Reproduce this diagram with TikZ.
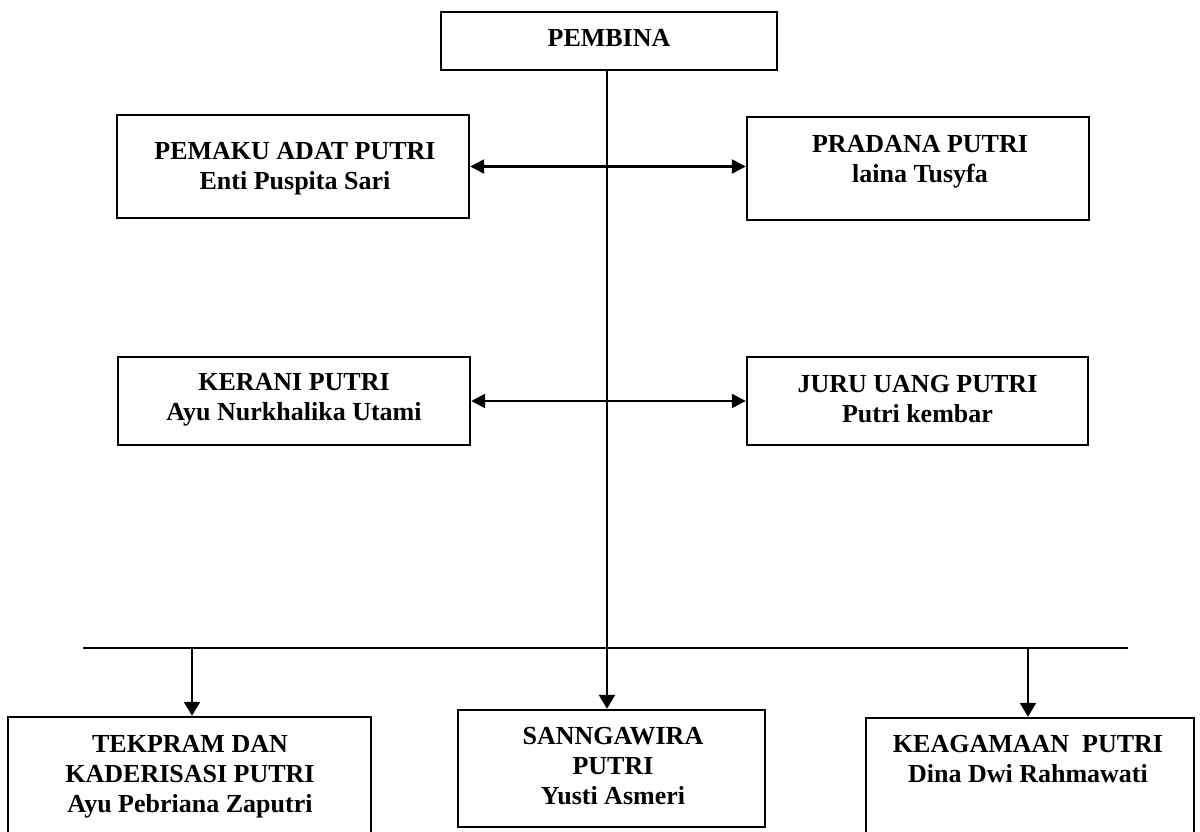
\documentclass[tikz,border=0pt]{standalone}
\usepackage{fontspec}
\setmainfont{Liberation Serif}
\usetikzlibrary{arrows.meta}
\begin{document}
\begin{tikzpicture}[x=0.5pt,y=-0.5pt,
  box/.style={draw=black,line width=1.2pt,rectangle,inner sep=0pt,fill=none},
  lbl/.style={anchor=north,inner sep=0pt,align=center,font=\bfseries\fontsize{13}{15}\selectfont},
  conn/.style={line width=1.2pt},
  arr/.style={line width=1.2pt,-{Triangle[length=7pt,width=8pt]}},
  darr/.style={line width=1.2pt,{Triangle[length=7pt,width=7pt]}-{Triangle[length=7pt,width=7pt]}},
  bar/.style={line width=0.9pt}]
\useasboundingbox (0,0) rectangle (1200,831);
\clip (0,0) rectangle (1200,831);
\fill[white] (0,0) rectangle (1200,831);

% boxes
\node[box,minimum width=168pt,minimum height=29pt] (pembina) at (609,41) {};
\node[box,minimum width=176pt,minimum height=51.5pt] (pemaku) at (293,166.5) {};
\node[box,minimum width=171pt,minimum height=51.5pt] (pradana) at (918,168.5) {};
\node[box,minimum width=176pt,minimum height=44pt] (kerani) at (294,401) {};
\node[box,minimum width=170.5pt,minimum height=44pt] (juru) at (917.5,401) {};
\node[box,minimum width=181.5pt,minimum height=71.5pt] (tek) at (189.5,788.5) {};
\node[box,minimum width=153.5pt,minimum height=58.5pt] (sang) at (611.5,768.5) {};
\node[box,minimum width=164pt,minimum height=71pt] (keag) at (1030,789) {};

% texts
\node[lbl] (tpembina) at (609,29) {PEMBINA};
\node[lbl] (tpemaku) at (295,142) {PEMAKU ADAT PUTRI\\Enti Puspita Sari};
\node[lbl] (tpradana) at (920,135) {PRADANA PUTRI\\laina Tusyfa};
\node[lbl] (tkerani) at (294,373) {KERANI PUTRI\\Ayu Nurkhalika Utami};
\node[lbl] (tjuru) at (917.5,375) {JURU UANG PUTRI\\Putri kembar};
\node[lbl] (ttek) at (190,735) {TEKPRAM DAN\\KADERISASI PUTRI\\Ayu Pebriana Zaputri};
\node[lbl] (tsang) at (613,727) {SANNGAWIRA\\PUTRI\\Yusti Asmeri};
\node[lbl] (tkeag) at (1028,735) {KEAGAMAAN~~PUTRI\\Dina Dwi Rahmawati};

% coordinates
\coordinate (spine) at (607,0);
\coordinate (barL) at (83,648);
\coordinate (barR) at (1128,648);
\coordinate (dropL) at (192,648);
\coordinate (dropR) at (1028,648);

% connectors
\draw[bar] (barL) -- (barR);
\draw[arr] (pembina.south -| spine) -- (spine |- sang.north);
\draw[darr] (pemaku.east) -- (pemaku.east -| pradana.west);
\draw[darr] (kerani.east) -- (kerani.east -| juru.west);
\draw[arr] (dropL) -- (dropL |- tek.north);
\draw[arr] (dropR) -- (dropR |- keag.north);
\end{tikzpicture}
\end{document}
